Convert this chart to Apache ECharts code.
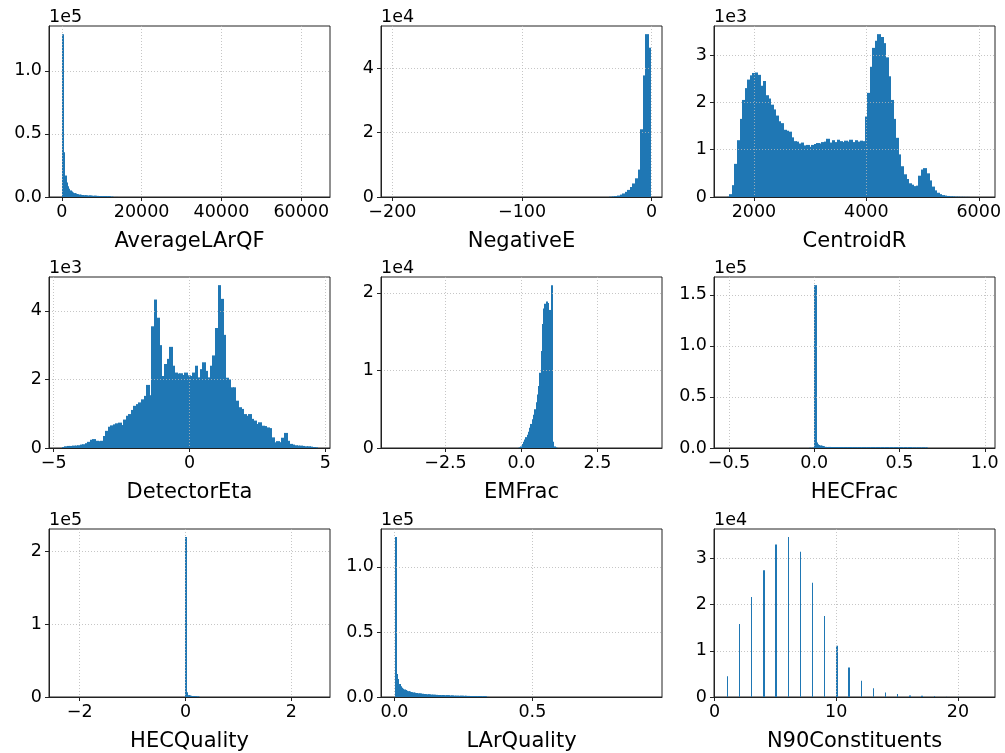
<!DOCTYPE html>
<html><head><meta charset="utf-8">
<script src="https://cdn.jsdelivr.net/npm/echarts@6/dist/echarts.min.js"></script>
<style>html,body{margin:0;padding:0;background:#fff}#c{width:1005px;height:753px}</style>
</head><body><div id="c"></div>
<script>
// ---------------- DATA ----------------
const titles = ['AverageLArQF','NegativeE','CentroidR','DetectorEta','EMFrac','HECFrac','HECQuality','LArQuality','N90Constituents'];

// histogram bins: first bin left edge and bin width for each panel
const binStarts = [0, -32.68, 1517, -4.7, -0.126, -0.03, -0.012, 0];
const binWidths = [320, 1.98, 45.45, 0.094, 0.042, 0.0075, 0.024, 0.00463];

const countsAverageLArQF = [129000,35500,17000,11500,8500,6500,5200,4300,3600,3100,2700,2400,2150,1950,1800,1650,1550,1450,1350,1280,1220,1160,1100,1050,1000,960,920,880,850,820,790,760,740,720,700,680,660,640,300,120,80,60,50,40,30,20,15,10];
const countsNegativeE = [100,170,280,450,750,1100,1600,2200,3100,4200,5800,8500,21000,37700,50500,46300];
const countsCentroidR = [5,60,250,700,1200,1650,2050,2300,2480,2570,2620,2630,2580,2350,2450,2150,2080,1950,1850,1720,1600,1560,1420,1400,1380,1260,1180,1170,1130,1150,1090,1100,1060,1100,1120,1140,1130,1160,1170,1230,1150,1200,1160,1210,1180,1160,1190,1170,1210,1160,1200,1170,1190,1180,1700,2200,2750,3150,3300,3440,3380,3250,2950,2550,2050,1650,1250,900,650,480,380,290,260,230,240,450,580,610,500,350,220,140,90,60,40,30,22,16,12,8,6,4,3,2,2,1,1,1,0,1];
const countsDetectorEta = [30,50,60,60,70,70,80,100,110,140,180,240,260,210,200,210,350,500,620,660,690,720,740,670,830,940,990,1110,1230,1280,1330,1420,1520,1840,1540,3550,4330,3800,3000,2100,2450,2600,2950,2400,2200,2170,2180,2130,2200,2120,2100,2200,2400,2060,2300,2500,2250,2060,2400,2700,3500,4750,4350,3300,2050,2000,1770,1770,1380,1190,1140,990,940,990,850,800,700,750,650,640,600,580,310,165,200,170,300,440,210,120,100,80,70,70,60,50,50,40,30,20];
const countsEMFrac = [20,60,200,500,800,1100,1400,1700,2100,2600,3100,3700,4300,5000,5900,6900,8000,9700,12500,16000,18000,18600,18900,18700,17800,15400,21000,800,200,60,20];
const countsHECFrac = [150,200,250,350,159500,5300,3600,2900,2500,2200,2000,1800,
 1100,1080,1060,1050,1030,1010,1000,990,980,960,950,940,930,920,910,900,890,880,870,860,
 850,845,840,835,830,825,820,815,810,805,800,795,790,785,780,775,770,765,760,755,
 750,745,740,735,730,725,720,715,710,705,700,695,690,685,680,675,670,665,660,655,
 650,645,640,635,630,625,620,615,610,605,600,595,590,585,580,575,570,565,560,555];
const countsHECQuality = [220000,6700,2600,1900,1600,1400,1250,1100,1000,900,300,100,50];
const countsLArQuality = [123000,17600,13900,10000,8200,7200,6400,5800,5300,4900,4500,4200,3900,3700,3500,3300,3150,3000,2850,2700,2600,2500,2400,2300,2200,2100,2050,1950,1900,1800,1750,1700,1650,1600,1560,1520,1480,1450,1420,1380,1350,1300,1250,1200,1150,1100,1080,1050,1020,1000,980,960,940,920,900,880,860,840,820,800,780,760,740,720,700,680,660,640,620,600,580,560,100,40];

const n90Values = [1,2,3,4,5,6,7,8,9,10,11,12,13,14,15,16,17,18,19,20,21,22];
const countsN90 = [4470,15800,21600,27400,33000,34600,31400,24700,17500,11100,6400,3500,1900,1000,640,300,250,200,80,40,20,5];
const n90BinWidth = 0.105;

// axes
const xRanges = [[-3200,67200],[-208.8,8],[1290,6289],[-5.17,5.17],[-4.62,4.62],[-0.588,1.06],[-2.58,2.73],[-0.049,0.97],[-0.05,23.05]];
const xTicks = [[0,20000,40000,60000],[-200,-100,0],[2000,4000,6000],[-5,0,5],[-2.5,0,2.5],[-0.5,0,0.5,1.0],[-2,0,2],[0,0.5],[0,10,20]];
const xTickLabels = [['0','20000','40000','60000'],['\u2212200','\u2212100','0'],['2000','4000','6000'],['\u22125','0','5'],['\u22122.5','0.0','2.5'],['\u22120.5','0.0','0.5','1.0'],['\u22122','0','2'],['0.0','0.5'],['0','10','20']];
const yTicks = [[0,50000,100000],[0,20000,40000],[0,1000,2000,3000],[0,2000,4000],[0,10000,20000],[0,50000,100000,150000],[0,100000,200000],[0,50000,100000],[0,10000,20000,30000]];
const yTickLabels = [['0.0','0.5','1.0'],['0','2','4'],['0','1','2','3'],['0','2','4'],['0','1','2'],['0.0','0.5','1.0','1.5'],['0','1','2'],['0.0','0.5','1.0'],['0','1','2','3']];
const yScaleLabels = ['1e5','1e4','1e3','1e3','1e4','1e5','1e5','1e5','1e4'];

// ---------------- LAYOUT ----------------
const lefts = [49, 381, 714];
const tops = [26, 277, 529];
const W = 281, H = 171;
const FONT = 'DejaVu Sans';
const BAR = '#1f77b4';

const allCounts = [countsAverageLArQF,countsNegativeE,countsCentroidR,countsDetectorEta,countsEMFrac,countsHECFrac,countsHECQuality,countsLArQuality];

function histData(i){
  if (i === 8) return n90Values.map((v,k)=>[v, v + n90BinWidth, countsN90[k]]);
  const c = allCounts[i];
  return c.map((n,k)=>[binStarts[i] + k*binWidths[i], binStarts[i] + (k+1)*binWidths[i], n]);
}
function labelFn(ticks, labels){
  return function(v){
    for (let k=0;k<ticks.length;k++){ if (Math.abs(ticks[k]-v) < 1e-9*Math.max(1,Math.abs(v))+1e-9) return labels[k]; }
    return '';
  };
}
function makeRender(overlap){
  return function(params, api){
    const p0 = api.coord([api.value(0), api.value(2)]);
    const p1 = api.coord([api.value(1), 0]);
    const x0 = Math.round(p0[0]);
    const x1 = Math.max(Math.round(p1[0]), x0 + 1);
    const h = p1[1]-p0[1];
    if (h <= 0.05) return null;
    return {type:'rect', shape:{x:x0, y:p0[1], width:x1-x0+overlap, height:h}, style:{fill:BAR, stroke:null, lineWidth:0}};
  };
}

const grids=[], xAxes=[], yAxes=[], series=[];
for (let i=0;i<9;i++){
  const r = Math.floor(i/3), c = i%3;
  grids.push({left:lefts[c], top:tops[r], width:W, height:H, show:true, borderColor:'#222', borderWidth:1, containLabel:false});
  const data = histData(i);
  const peak = Math.max(...data.map(d=>d[2]));
  xAxes.push({
    type:'value', gridIndex:i, min:xRanges[i][0], max:xRanges[i][1], z:3,
    name:titles[i], nameLocation:'middle', nameGap:34,
    nameTextStyle:{fontFamily:FONT, fontSize:21, color:'#000'},
    axisLine:{show:true, onZero:false, lineStyle:{color:'#222', width:1}},
    axisTick:{show:true, length:4, customValues:xTicks[i], lineStyle:{color:'#222'}},
    axisLabel:{customValues:xTicks[i], formatter:labelFn(xTicks[i], xTickLabels[i]), fontFamily:FONT, fontSize:17.5, color:'#000', margin:6, showMinLabel:true, showMaxLabel:true},
    splitLine:{show:true, lineStyle:{type:[1,2], color:'#b8b8b8', width:0.8}}
  });
  yAxes.push({
    type:'value', gridIndex:i, min:0, max:peak*1.05, z:3,
    name:yScaleLabels[i], nameLocation:'end', nameGap:0,
    nameTextStyle:{fontFamily:FONT, fontSize:17.5, color:'#000', align:'left', verticalAlign:'bottom'},
    axisLine:{show:true, onZero:false, lineStyle:{color:'#222', width:1}},
    axisTick:{show:true, length:4, customValues:yTicks[i], lineStyle:{color:'#222'}},
    axisLabel:{customValues:yTicks[i], formatter:labelFn(yTicks[i], yTickLabels[i]), fontFamily:FONT, fontSize:17.5, color:'#000', margin:7},
    splitLine:{show:true, lineStyle:{type:[1,2], color:'#b8b8b8', width:0.8}}
  });
  series.push({type:'custom', xAxisIndex:i, yAxisIndex:i, data:data, renderItem:makeRender(i === 8 ? 0 : 1), encode:{x:[0,1], y:2}, silent:true, clip:true, z:2, animation:false, itemStyle:{borderWidth:0}});
}

const chart = echarts.init(document.getElementById('c'), null, {renderer:'canvas'});
chart.setOption({animation:false, backgroundColor:'#fff', grid:grids, xAxis:xAxes, yAxis:yAxes, series:series});
</script>
</body></html>
